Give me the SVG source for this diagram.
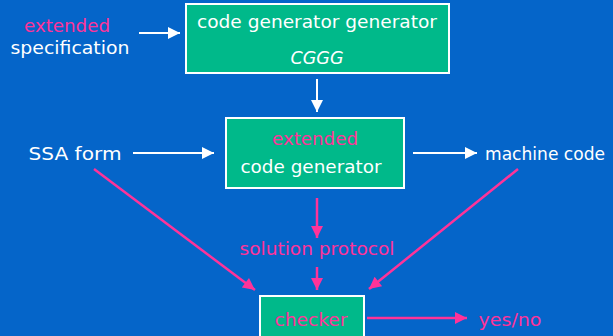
<svg xmlns="http://www.w3.org/2000/svg" width="613" height="336" viewBox="0 0 613 336">
<defs>
<style>
text{font-family:"DejaVu Sans","Noto Sans",sans-serif;font-size:18px;text-anchor:middle}
.w{fill:#ffffff}
.p{fill:#ff3399}
.box{fill:#00b98a;stroke:#ffffff;stroke-width:2}
.lw{stroke:#ffffff;stroke-width:2;fill:none}
.lp{stroke:#ff3399;stroke-width:2.5;fill:none}
</style>
<marker id="aw" viewBox="0 0 10 10" refX="10" refY="5" markerWidth="13" markerHeight="12" markerUnits="userSpaceOnUse" orient="auto"><path d="M0,0L10,5L0,10z" fill="#ffffff"/></marker>
<marker id="ap" viewBox="0 0 10 10" refX="10" refY="5" markerWidth="14" markerHeight="12" markerUnits="userSpaceOnUse" orient="auto"><path d="M0,0L10,5L0,10z" fill="#ff3399"/></marker>
</defs>
<rect width="613" height="336" fill="#0565c9"/>
<g id="spec">
<text class="p" x="67" y="32" textLength="86" lengthAdjust="spacingAndGlyphs">extended</text>
<text class="w" x="70" y="54" textLength="119" lengthAdjust="spacingAndGlyphs">specification</text>
</g>
<g id="cggg">
<rect class="box" x="186" y="4" width="263" height="69"/>
<text class="w" x="317" y="28" textLength="240" lengthAdjust="spacingAndGlyphs">code generator generator</text>
<text class="w" x="317" y="64" font-style="italic" textLength="53" lengthAdjust="spacingAndGlyphs">CGGG</text>
</g>
<g id="ssa"><text class="w" x="75" y="160" textLength="93" lengthAdjust="spacingAndGlyphs">SSA form</text></g>
<g id="codegen">
<rect class="box" x="226" y="118" width="178" height="70"/>
<text class="p" x="315" y="145" textLength="86" lengthAdjust="spacingAndGlyphs">extended</text>
<text class="w" x="311" y="173" textLength="141" lengthAdjust="spacingAndGlyphs">code generator</text>
</g>
<g id="machine"><text class="w" x="545" y="160" textLength="120" lengthAdjust="spacingAndGlyphs">machine code</text></g>
<g id="protocol"><text class="p" x="317" y="255" textLength="155" lengthAdjust="spacingAndGlyphs">solution protocol</text></g>
<g id="checker">
<rect class="box" x="260" y="296" width="104" height="44"/>
<text class="p" x="311" y="326" textLength="73" lengthAdjust="spacingAndGlyphs">checker</text>
</g>
<g id="yesno"><text class="p" x="510" y="326" textLength="63" lengthAdjust="spacingAndGlyphs">yes/no</text></g>
<g id="connectors">
<line class="lw" x1="139" y1="33" x2="180" y2="33" marker-end="url(#aw)"/>
<line class="lw" x1="317" y1="79" x2="317" y2="112" marker-end="url(#aw)"/>
<line class="lw" x1="133" y1="153" x2="214" y2="153" marker-end="url(#aw)"/>
<line class="lw" x1="413" y1="153" x2="477" y2="153" marker-end="url(#aw)"/>
<line class="lp" x1="94" y1="169" x2="255" y2="290" marker-end="url(#ap)"/>
<line class="lp" x1="518" y1="169" x2="369" y2="289" marker-end="url(#ap)"/>
<line class="lp" x1="317" y1="198" x2="317" y2="238" marker-end="url(#ap)"/>
<line class="lp" x1="317" y1="267" x2="317" y2="290" marker-end="url(#ap)"/>
<line class="lp" x1="367" y1="318" x2="467" y2="318" marker-end="url(#ap)"/>
</g>
</svg>
